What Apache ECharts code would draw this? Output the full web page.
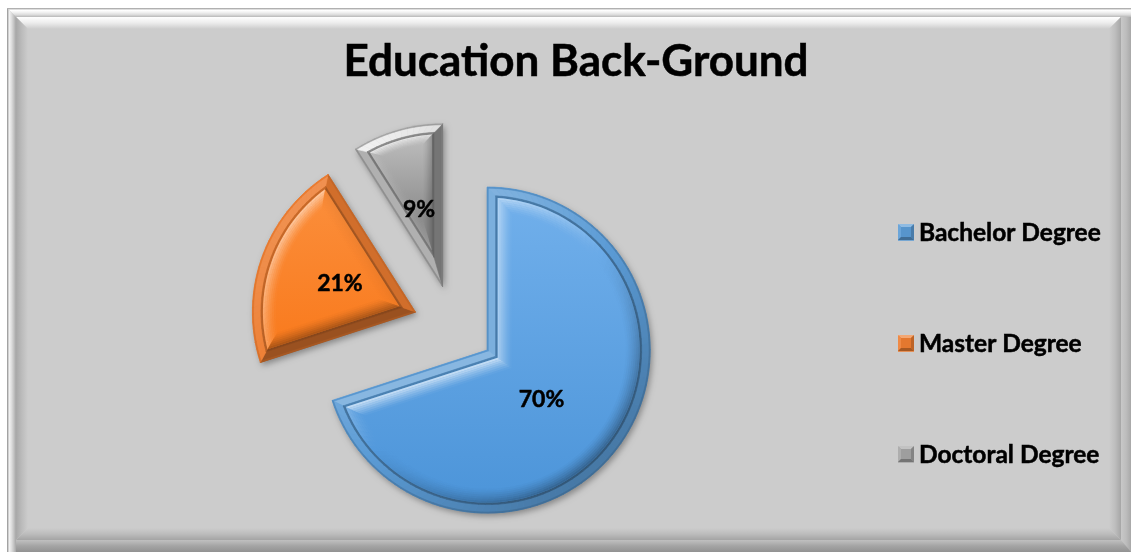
<!DOCTYPE html>
<html>
<head>
<meta charset="utf-8">
<title>Education Back-Ground</title>
<style>
html,body{margin:0;padding:0;background:#fff;}
#chart{width:1131px;height:552px;}
</style>
<script src="https://cdn.jsdelivr.net/npm/echarts@6/dist/echarts.min.js"></script>
</head>
<body>
<div id="chart"></div>
<script>
const chartTitle = 'Education Back-Ground';
const categories = ['Bachelor Degree', 'Master Degree', 'Doctoral Degree'];
const shares = [70, 21, 9];
const rimColors = ['#5B9BD5', '#ED7D31', '#A5A5A5'];
const faceTop = ['#6FAEEA', '#FB8C38', '#B8B8B8'];
const faceBottom = ['#4E96DA', '#F97C20', '#8C8C8C'];
const rimLift = [0.3, 0.2, 0.85];
const rimDrop = [0.22, 0.3, 0.45];
const rimBias = [0, 0.25, 0];
const softLift = [0.68, 0.5, 0.7];
const labelNudge = [[-14, 0], [4, 0], [0, 4]];

const FONT = 'Lato, "Noto Sans", sans-serif';
const CENTER = [454, 326];
const RADIUS = 163;
const EXPLODE = 41;
const LIGHT = [-0.65, -0.76];
const RIM = 8.5;
const GROOVE = 2;
const SOFT = [14, 13, 9];
const SOFT_STEPS = 7;

const rad = d => d * Math.PI / 180;
const dir = a => [Math.sin(rad(a)), -Math.cos(rad(a))];
const toRgb = c => [1, 3, 5].map(i => parseInt(c.slice(i, i + 2), 16));
function mix(c, target, f) {
  const a = toRgb(c);
  return 'rgb(' + a.map(v => Math.round(v + (target - v) * f)).join(',') + ')';
}
// Lit edges lean to white, unlit ones to black.
const shade = (c, t, up, down) => t > 0 ? mix(c, 255, t * up) : mix(c, 0, -t * down);
const lit = n => n[0] * LIGHT[0] + n[1] * LIGHT[1];

// Outline of one exploded wedge, inset by d from all of its edges.
function wedge(index, d) {
  const total = shares.reduce((s, v) => s + v, 0);
  const before = shares.slice(0, index).reduce((s, v) => s + v, 0);
  const a0 = before / total * 360;
  const a1 = (before + shares[index]) / total * 360;
  const mid = (a0 + a1) / 2;
  const half = (a1 - a0) / 2;
  const md = dir(mid);
  const origin = [CENTER[0] + md[0] * EXPLODE, CENTER[1] + md[1] * EXPLODE];
  const shift = d / Math.sin(rad(half));
  const r = RADIUS - d;
  const delta = Math.asin(d / r) * 180 / Math.PI;
  const count = Math.max(6, Math.ceil((a1 - a0) / 2.5));
  const arc = [], normals = [];
  for (let i = 0; i <= count; i++) {
    const a = a0 + delta + (a1 - a0 - 2 * delta) * i / count;
    const v = dir(a);
    arc.push([origin[0] + v[0] * r, origin[1] + v[1] * r]);
    normals.push(v);
  }
  return {
    apex: [origin[0] + md[0] * shift, origin[1] + md[1] * shift],
    arc, normals,
    sideA: dir(a0 - 90),
    sideB: dir(a1 + 90)
  };
}

function poly(points, fill) {
  return {
    type: 'polygon', silent: true,
    shape: { points },
    style: { fill, stroke: typeof fill === 'string' ? fill : null, lineWidth: 0.6 }
  };
}

// One ring of bevel facets, coloured by which way each facet faces.
function band(index, d0, d1, colorFor) {
  const p = wedge(index, d0), q = wedge(index, d1), out = [];
  const last = p.arc.length - 1;
  out.push(poly([p.apex, p.arc[0], q.arc[0], q.apex], colorFor(p.sideA)));
  out.push(poly([p.apex, p.arc[last], q.arc[last], q.apex], colorFor(p.sideB)));
  for (let i = 0; i < last; i++) {
    const m = [(p.normals[i][0] + p.normals[i + 1][0]) / 2, (p.normals[i][1] + p.normals[i + 1][1]) / 2];
    out.push(poly([p.arc[i], p.arc[i + 1], q.arc[i + 1], q.arc[i]], colorFor(m)));
  }
  return out;
}

function renderBevel(params, api) {
  const i = api.value(0);
  const rim = rimColors[i];
  const soft = SOFT[i];
  const children = [];
  children.push(...band(i, 0, RIM, n => shade(rim, lit(n) - rimBias[i], rimLift[i], rimDrop[i])));
  children.push(...band(i, 0, 1.1, n => mix(rim, 0, 0.16 - lit(n) * 0.14)));
  children.push(...band(i, RIM, RIM + GROOVE, n => mix(rim, 0, 0.3 - lit(n) * 0.14)));
  const inner = RIM + GROOVE;
  const face = wedge(i, inner + soft);
  const top = Math.min(...face.arc.map(p => p[1]).concat(face.apex[1]));
  const bottom = Math.max(...face.arc.map(p => p[1]).concat(face.apex[1]));
  const inset = wedge(i, inner);
  children.push(poly([inset.apex].concat(inset.arc), new echarts.graphic.LinearGradient(
    0, top, 0, bottom, [{ offset: 0, color: faceTop[i] }, { offset: 1, color: faceBottom[i] }], true)));
  for (let s = 0; s < SOFT_STEPS; s++) {
    const f = Math.pow(1 - s / SOFT_STEPS, 1.4);
    const d0 = inner + soft * s / SOFT_STEPS;
    const d1 = inner + soft * (s + 1) / SOFT_STEPS;
    children.push(...band(i, d0, d1, n => {
      const t = lit(n);
      return t > 0 ? 'rgba(255,255,255,' + (t * f * softLift[i]).toFixed(3) + ')'
                   : 'rgba(0,0,0,' + (-t * f * 0.32).toFixed(3) + ')';
    }).map(el => { el.style.stroke = null; return el; }));
  }
  return { type: 'group', children };
}

// Picture frame behind the plot: an outer moulding and an inner soft bevel.
const grad = (x, y, x2, y2, stops) => ({
  type: 'linear', x, y, x2, y2, global: true,
  colorStops: stops.map((c, i) => ({ offset: i / (stops.length - 1), color: c }))
});
const W = 1131, H = 552;
const L0 = 7, T0 = 8, L1 = 16, T1 = 17, L2 = 28, T2 = 29, R1 = 1121, B1 = 540, R2 = 1109, B2 = 528;
function frameShape(points, fill) {
  return { type: 'polygon', z: 0, silent: true, shape: { points }, style: { fill } };
}
const frame = [
  { type: 'rect', z: 0, silent: true, shape: { x: L0, y: T0, width: W - L0, height: H - T0 }, style: { fill: '#CCCCCC' } },
  frameShape([[L0, T0], [W, T0], [W, T1], [R1, T1], [L1, T1]], grad(0, T0, 0, T1, ['#9a9a9a', '#ffffff', '#f0f0f0', '#dcdcdc', '#b8b8b8'])),
  frameShape([[L0, T0], [L1, T1], [L1, B1], [L1, H], [L0, H]], grad(L0, 0, L1, 0, ['#8c8c8c', '#f2f2f2', '#dedede', '#c4c4c4', '#a6a6a6'])),
  frameShape([[W, T1], [R1, T1], [R1, H], [W, H]], grad(R1, 0, W, 0, ['#c8c8c8', '#bdbdbd', '#a8a8a8'])),
  frameShape([[L1, B1], [R1, B1], [W, H], [L1, H]], grad(0, B1, 0, H, ['#c0c0c0', '#a4a4a4', '#929292'])),
  frameShape([[L1, T1], [R1, T1], [R2, T2], [L2, T2]], grad(0, T1, 0, T2, ['#ffffff', '#ececec', '#CCCCCC'])),
  frameShape([[L1, T1], [L2, T2], [L2, B2], [L1, B1]], grad(L1, 0, L2, 0, ['#a8a8a8', '#bcbcbc', '#CCCCCC'])),
  frameShape([[R1, T1], [R1, B1], [R2, B2], [R2, T2]], grad(R2, 0, R1, 0, ['#CCCCCC', '#bebebe', '#a6a6a6'])),
  frameShape([[L1, B1], [R1, B1], [R2, B2], [L2, B2]], grad(0, B2, 0, B1, ['#CCCCCC', '#bcbcbc', '#a4a4a4']))
];

// Small bevelled faces over the legend swatches.
const SWATCH = { x: 898, size: 16, tops: [224, 335, 446], inset: 3 };
const swatches = [];
SWATCH.tops.forEach((y, i) => {
  const x = SWATCH.x, s = SWATCH.size, k = SWATCH.inset, c = rimColors[i];
  const facet = (points, fill) => ({ type: 'polygon', z: 20, silent: true, shape: { points }, style: { fill } });
  swatches.push(
    facet([[x, y], [x + s, y], [x + s - k, y + k], [x + k, y + k]], mix(c, 255, 0.32)),
    facet([[x, y], [x + k, y + k], [x + k, y + s - k], [x, y + s]], mix(c, 255, 0.1)),
    facet([[x + s, y], [x + s, y + s], [x + s - k, y + s - k], [x + s - k, y + k]], mix(c, 0, 0.2)),
    facet([[x, y + s], [x + s, y + s], [x + s - k, y + s - k], [x + k, y + s - k]], mix(c, 0, 0.3)),
    facet([[x + k, y + k], [x + s - k, y + k], [x + s - k, y + s - k], [x + k, y + s - k]], mix(c, 0, 0.04))
  );
});

const baseData = categories.map((name, i) => ({
  name, value: shares[i], selected: true,
  itemStyle: { color: rimColors[i] }
}));
const labelData = categories.map((name, i) => ({
  name, value: shares[i], selected: true
}));
const heavyText = { textBorderColor: '#000000', textBorderWidth: 0.5 };
const dropShadow = { shadowBlur: 6, shadowOffsetX: 2, shadowOffsetY: 3, shadowColor: 'rgba(0,0,0,0.35)' };

const chart = echarts.init(document.getElementById('chart'), null, { renderer: 'canvas', width: W, height: H });
chart.setOption({
  animation: false,
  backgroundColor: '#ffffff',
  title: {
    text: chartTitle,
    left: 571, top: 35, textAlign: 'center',
    textStyle: { fontFamily: FONT, fontWeight: 'bold', fontSize: 44, color: '#000000', ...heavyText }
  },
  legend: {
    orient: 'vertical', left: SWATCH.x, top: 220, padding: 0,
    data: categories, selectedMode: false,
    icon: 'rect', itemWidth: 16, itemHeight: 16, itemGap: 85.5,
    textStyle: { fontFamily: FONT, fontWeight: 'bold', fontSize: 24.5, color: '#000000', ...heavyText }
  },
  graphic: { elements: frame.concat(swatches) },
  series: [
    {
      type: 'pie', z: 2, center: CENTER, radius: [0, RADIUS], startAngle: 90, clockwise: true,
      data: baseData, selectedMode: 'multiple', selectedOffset: EXPLODE,
      avoidLabelOverlap: false, silent: true,
      label: { show: false }, labelLine: { show: false },
      itemStyle: dropShadow,
      select: { itemStyle: dropShadow },
      emphasis: { disabled: true }
    },
    {
      type: 'custom', z: 3, coordinateSystem: 'none', silent: true,
      renderItem: renderBevel,
      data: shares.map((v, i) => [i, v])
    },
    {
      type: 'pie', z: 4, center: CENTER, radius: [0, RADIUS], startAngle: 90, clockwise: true,
      data: labelData, selectedMode: 'multiple', selectedOffset: EXPLODE,
      avoidLabelOverlap: false, silent: true,
      itemStyle: { color: 'transparent' },
      select: { itemStyle: { color: 'transparent' } },
      emphasis: { disabled: true },
      labelLine: { show: false },
      labelLayout: p => ({ dx: labelNudge[p.dataIndex][0], dy: labelNudge[p.dataIndex][1] }),
      label: {
        show: true, position: 'inside', formatter: '{d}%',
        fontFamily: FONT, fontWeight: 'bold', fontSize: 23, color: '#000000', ...heavyText
      }
    }
  ]
});
</script>
</body>
</html>
